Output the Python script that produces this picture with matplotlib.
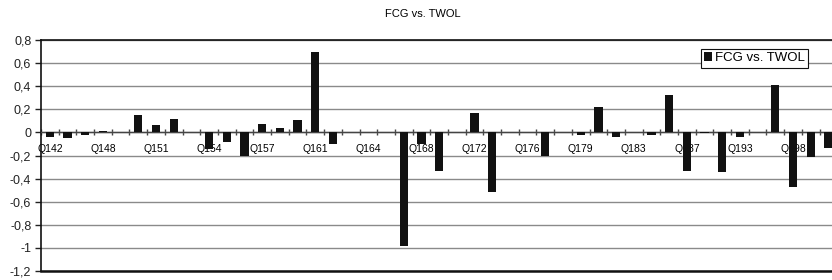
import matplotlib.pyplot as plt
from matplotlib.patches import Patch
import numpy as np

plt.rcParams['font.family'] = ['Liberation Sans', 'DejaVu Sans']

# questions on the x axis (only every 3rd one is labelled in the chart)
questions = ['Q142', 'Q144', 'Q146', 'Q148', 'Q149', 'Q150', 'Q151', 'Q152', 'Q153',
             'Q154', 'Q155', 'Q156', 'Q157', 'Q158', 'Q159', 'Q161', 'Q162', 'Q163',
             'Q164', 'Q165', 'Q166', 'Q168', 'Q169', 'Q170', 'Q172', 'Q173', 'Q174',
             'Q176', 'Q177', 'Q178', 'Q179', 'Q180', 'Q181', 'Q183', 'Q184', 'Q185',
             'Q187', 'Q189', 'Q191', 'Q193', 'Q195', 'Q196', 'Q198', 'Q199', 'Q200']

fcg_vs_twol = [-0.04, -0.05, -0.025, 0.015, 0.0, 0.148, 0.067, 0.113, 0.0,
               -0.142, -0.084, -0.206, 0.07, 0.035, 0.11, 0.693, -0.099, 0.008,
               0.0, 0.0, -0.985, -0.104, -0.336, 0.0, 0.165, -0.513, 0.0,
               0.0, -0.2, 0.0, -0.026, 0.22, -0.04, 0.0, -0.026, 0.32,
               -0.336, -0.008, -0.345, -0.04, 0.0, 0.41, -0.475, -0.21, -0.133]

y_ticks = [0.8, 0.6, 0.4, 0.2, 0, -0.2, -0.4, -0.6, -0.8, -1, -1.2]
y_labels = ['0,8', '0,6', '0,4', '0,2', '0', '-0,2', '-0,4', '-0,6', '-0,8', '-1', '-1,2']


def main():
    fig = plt.figure(figsize=(8.32, 2.8), dpi=100)
    ax = fig.add_axes([0.0493, 0.032, 1.0063 - 0.0493, 0.857 - 0.032])

    x = np.arange(len(questions))
    ax.bar(x, fcg_vs_twol, width=0.47, color='#111111', zorder=3)

    ax.set_xlim(-0.5, len(questions) - 0.5)
    ax.set_ylim(-1.2, 0.8)

    # y axis
    ax.set_yticks(y_ticks)
    ax.set_yticklabels(y_labels, fontsize=9)
    ax.tick_params(axis='y', direction='out', length=4, width=1, pad=3, colors='#222222')
    ax.yaxis.grid(True, color='#8a8a8a', linewidth=1)
    ax.set_axisbelow(True)

    # x axis sits on zero, ticks between the categories
    ax.spines['bottom'].set_position(('data', 0))
    ax.spines['bottom'].set_color('#444444')
    ax.spines['bottom'].set_linewidth(1)
    ax.set_xticks(np.arange(len(questions) + 1) - 0.5)
    ax.set_xticklabels([])
    ax.tick_params(axis='x', which='major', direction='inout', length=5, width=1, colors='#444444')
    ax.set_xticks(x[::3], minor=True)
    ax.set_xticklabels(questions[::3], minor=True, fontsize=7.5)
    ax.tick_params(axis='x', which='minor', length=0, pad=8)

    for side in ['left', 'top', 'right']:
        ax.spines[side].set_color('#111111')
        ax.spines[side].set_linewidth(1.2)
    ax.axhline(-1.2, color='#111111', linewidth=1.8, clip_on=False, zorder=4)

    fig.text(0.508, 0.95, 'FCG vs. TWOL', ha='center', va='center', fontsize=8)

    handle = Patch(facecolor='#111111', edgecolor='none')
    leg = ax.legend([handle], ['FCG vs. TWOL'], loc='upper left',
                    bbox_to_anchor=(0.8425, 0.825), bbox_transform=fig.transFigure,
                    fontsize=9.5, frameon=True, fancybox=False, framealpha=1,
                    edgecolor='#111111', handlelength=0.6, handleheight=0.6,
                    handletextpad=0.2, borderpad=0.25, borderaxespad=0)
    leg.get_frame().set_linewidth(0.8)

    fig.savefig('out.png', dpi=100)


if __name__ == '__main__':
    main()
